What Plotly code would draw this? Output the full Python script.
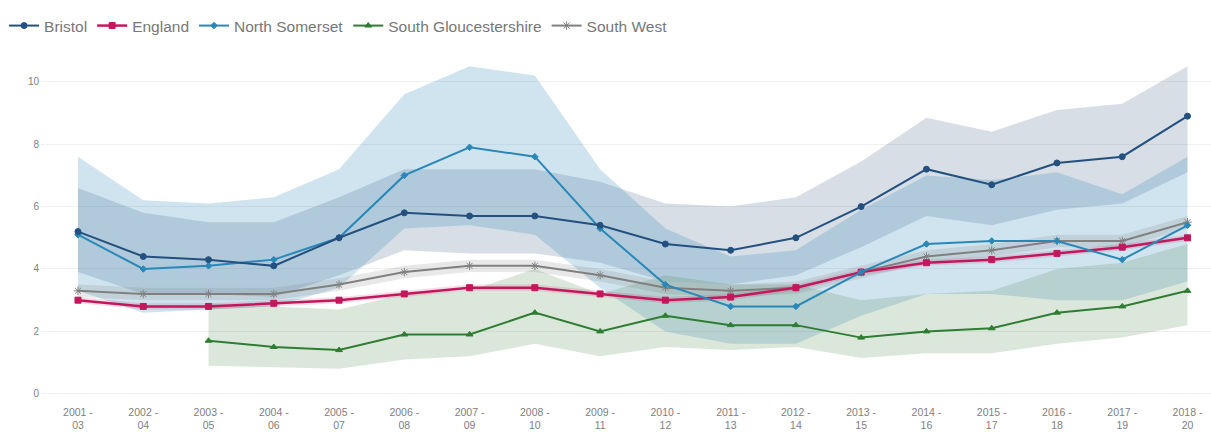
import plotly.graph_objects as go

# Three-year rolling periods
periods = ["2001 -<br>03", "2002 -<br>04", "2003 -<br>05", "2004 -<br>06", "2005 -<br>07",
           "2006 -<br>08", "2007 -<br>09", "2008 -<br>10", "2009 -<br>11", "2010 -<br>12",
           "2011 -<br>13", "2012 -<br>14", "2013 -<br>15", "2014 -<br>16", "2015 -<br>17",
           "2016 -<br>18", "2017 -<br>19", "2018 -<br>20"]

bristol = [5.2, 4.4, 4.3, 4.1, 5.0, 5.8, 5.7, 5.7, 5.4, 4.8, 4.6, 5.0, 6.0, 7.2, 6.7, 7.4, 7.6, 8.9]
bristol_lower = [3.9, 3.2, 3.2, 3.1, 3.8, 4.6, 4.5, 4.5, 4.2, 3.6, 3.5, 3.8, 4.7, 5.7, 5.4, 5.9, 6.1, 7.1]
bristol_upper = [6.6, 5.8, 5.5, 5.5, 6.3, 7.2, 7.2, 7.2, 6.8, 6.1, 6.0, 6.3, 7.45, 8.85, 8.4, 9.1, 9.3, 10.5]

england = [3.0, 2.8, 2.8, 2.9, 3.0, 3.2, 3.4, 3.4, 3.2, 3.0, 3.1, 3.4, 3.9, 4.2, 4.3, 4.5, 4.7, 5.0]
england_lower = [2.9, 2.7, 2.7, 2.8, 2.9, 3.1, 3.3, 3.3, 3.1, 2.9, 3.0, 3.3, 3.8, 4.1, 4.2, 4.4, 4.6, 4.9]
england_upper = [3.1, 2.9, 2.9, 3.0, 3.1, 3.3, 3.5, 3.5, 3.3, 3.1, 3.2, 3.5, 4.0, 4.3, 4.4, 4.6, 4.8, 5.1]

north_somerset = [5.1, 4.0, 4.1, 4.3, 5.0, 7.0, 7.9, 7.6, 5.3, 3.5, 2.8, 2.8, 3.9, 4.8, 4.9, 4.9, 4.3, 5.4]
ns_lower = [3.3, 2.6, 2.7, 2.8, 3.4, 5.3, 5.4, 5.1, 3.4, 2.0, 1.6, 1.6, 2.5, 3.2, 3.2, 3.0, 3.0, 3.6]
ns_upper = [7.6, 6.2, 6.1, 6.3, 7.2, 9.6, 10.5, 10.2, 7.2, 5.3, 4.4, 4.6, 5.9, 7.0, 6.85, 7.1, 6.4, 7.6]

south_glos = [None, None, 1.7, 1.5, 1.4, 1.9, 1.9, 2.6, 2.0, 2.5, 2.2, 2.2, 1.8, 2.0, 2.1, 2.6, 2.8, 3.3]
sg_lower = [None, None, 0.9, 0.85, 0.8, 1.1, 1.2, 1.6, 1.2, 1.5, 1.4, 1.5, 1.15, 1.3, 1.3, 1.6, 1.8, 2.2]
sg_upper = [None, None, 2.9, 2.8, 2.7, 3.2, 3.3, 4.0, 3.2, 3.8, 3.5, 3.5, 3.0, 3.2, 3.3, 4.0, 4.2, 4.8]

south_west = [3.3, 3.2, 3.2, 3.2, 3.5, 3.9, 4.1, 4.1, 3.8, 3.4, 3.3, 3.4, 3.9, 4.4, 4.6, 4.9, 4.9, 5.5]
sw_lower = [3.1, 3.0, 3.0, 3.0, 3.3, 3.7, 3.9, 3.9, 3.6, 3.2, 3.1, 3.2, 3.7, 4.2, 4.4, 4.7, 4.7, 5.3]
sw_upper = [3.5, 3.4, 3.4, 3.4, 3.7, 4.1, 4.3, 4.3, 4.0, 3.6, 3.5, 3.6, 4.1, 4.6, 4.8, 5.1, 5.1, 5.7]

xs = list(range(len(periods)))

fig = go.Figure()


def add_band(lower, upper, fillcolor):
    idx = [i for i in xs if lower[i] is not None and upper[i] is not None]
    bx = idx + idx[::-1]
    by = [upper[i] for i in idx] + [lower[i] for i in idx[::-1]]
    fig.add_trace(go.Scatter(x=bx, y=by, fill="toself", fillcolor=fillcolor,
                             mode="lines", line=dict(width=0), hoverinfo="skip",
                             showlegend=False))


# Confidence intervals
add_band(bristol_lower, bristol_upper, "rgba(45,80,120,0.19)")
add_band(ns_lower, ns_upper, "rgba(50,140,185,0.23)")
add_band(sg_lower, sg_upper, "rgba(70,125,70,0.19)")
add_band(sw_lower, sw_upper, "rgba(120,120,120,0.17)")
add_band(england_lower, england_upper, "rgba(194,24,91,0.14)")


def add_line(name, values, color, symbol, size, width, rank):
    fig.add_trace(go.Scatter(x=xs, y=values, name=name, mode="lines+markers",
                             line=dict(color=color, width=width),
                             marker=dict(symbol=symbol, size=size, color=color,
                                         line=dict(color=color, width=1)),
                             connectgaps=False, legendrank=rank))


add_line("South West", south_west, "#808080", "asterisk-open", 7, 2, 5)
add_line("South Gloucestershire", south_glos, "#2e7d32", "triangle-up", 6, 2, 4)
add_line("England", england, "#c2185b", "square", 6, 2.5, 2)
add_line("North Somerset", north_somerset, "#2a88b8", "diamond", 5, 2, 3)
add_line("Bristol", bristol, "#23507f", "circle", 6, 2, 1)

fig.update_layout(
    width=1211, height=435,
    margin=dict(l=46, r=0, t=60, b=35),
    paper_bgcolor="white", plot_bgcolor="white",
    font=dict(family="Liberation Sans, Arial, sans-serif", size=10, color="#808080"),
    showlegend=True,
    legend=dict(orientation="h", x=-0.036, xanchor="left", y=1.1, yanchor="middle",
                font=dict(size=15.5, color="#777777"),
                itemwidth=30, bgcolor="rgba(0,0,0,0)"),
    xaxis=dict(tickmode="array", tickvals=xs, ticktext=periods, range=[-0.49, 17.36],
               showgrid=False, zeroline=False, showline=False, ticks="",
               ticklabelstandoff=4, automargin=False,
               tickfont=dict(size=10.5, color="#808080")),
    yaxis=dict(range=[-0.2, 10.7], tickvals=[0, 2, 4, 6, 8, 10], showgrid=True,
               gridcolor="#f0f0f0", gridwidth=1, zeroline=False, showline=False,
               ticks="outside", ticklen=4, tickcolor="#eeeeee", automargin=False,
               tickfont=dict(size=10, color="#808080")),
)

fig.write_html("out.html")
